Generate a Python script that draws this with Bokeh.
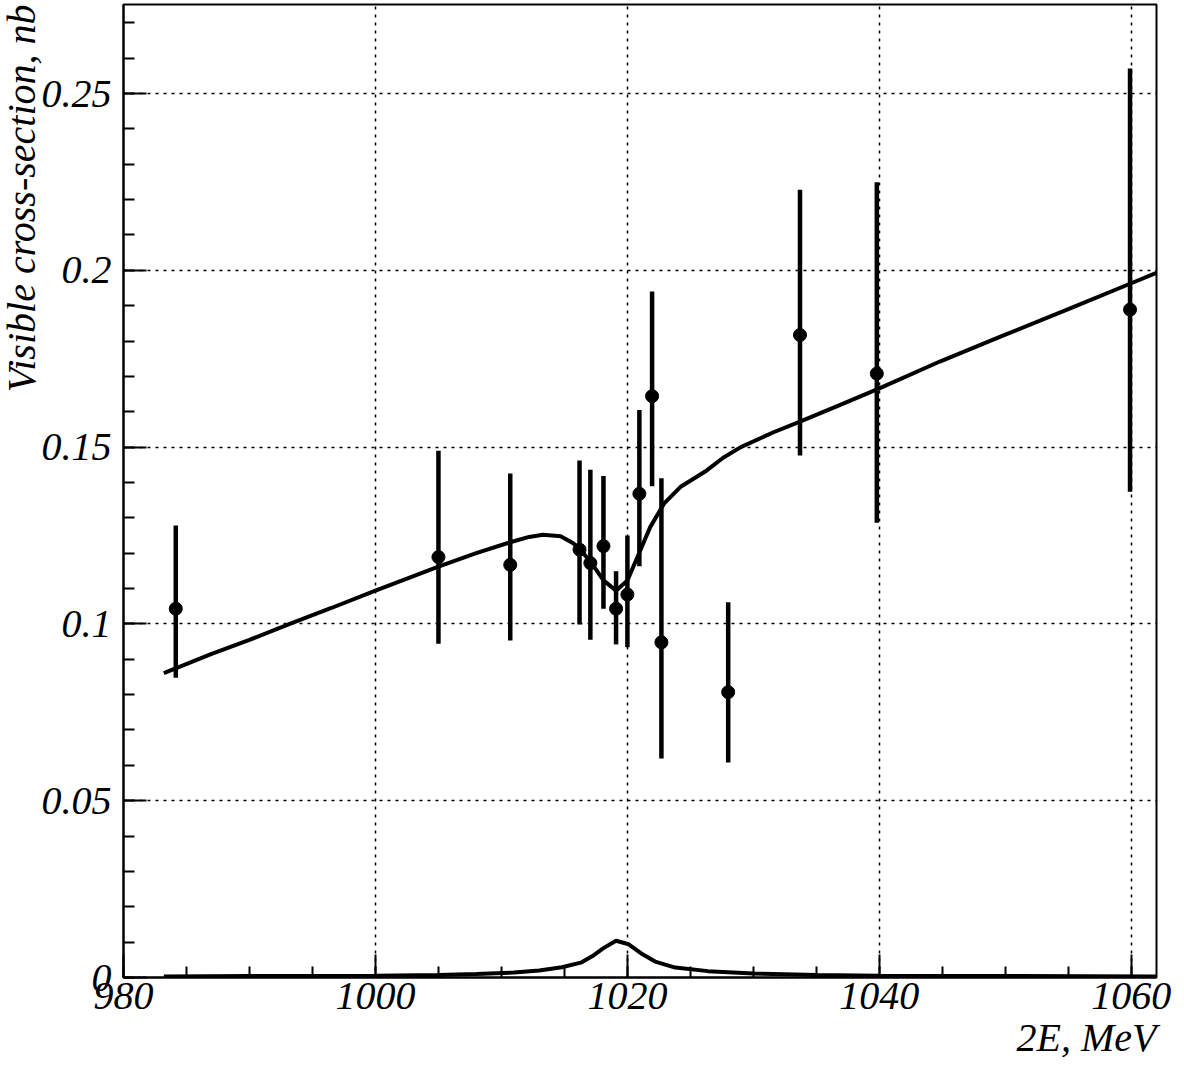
from bokeh.plotting import figure
from bokeh.models import FixedTicker, CustomJSTickFormatter, Range1d, Title
from bokeh.embed import file_html
from bokeh.resources import INLINE

# ---- data points (energy 2E in MeV, visible cross-section in nb) ----
pt_x = [984.15, 1005.0, 1010.7, 1016.2, 1017.06, 1018.1, 1019.1, 1020.0,
        1020.95, 1021.96, 1022.7, 1028.0, 1033.7, 1039.8, 1059.9]
pt_y = [0.1043, 0.1189, 0.1167, 0.1210, 0.1172, 0.1220, 0.1043, 0.1083,
        0.1368, 0.1644, 0.0948, 0.0807, 0.1817, 0.1708, 0.1889]
pt_hi = [0.1278, 0.1490, 0.1425, 0.1462, 0.1436, 0.1418, 0.1149, 0.1250,
         0.1605, 0.1940, 0.1412, 0.1061, 0.2228, 0.2249, 0.2571]
pt_lo = [0.0848, 0.0944, 0.0953, 0.0998, 0.0955, 0.1043, 0.0942, 0.0934,
         0.1163, 0.1389, 0.0619, 0.0608, 0.1476, 0.1286, 0.1374]

# ---- fit curve ----
fit_x = [983.2, 987.0, 990.0, 993.2, 996.5, 1000.0, 1005.0, 1008.0, 1010.7,
         1012.2, 1013.3, 1014.7, 1015.7, 1016.3, 1017.1, 1018.1, 1019.1,
         1020.0, 1020.8, 1021.8, 1022.9, 1024.2, 1026.3, 1027.6, 1029.0,
         1031.6, 1033.7, 1036.8, 1040.0, 1044.8, 1050.0, 1055.0, 1059.9, 1062.0]
fit_y = [0.0861, 0.0915, 0.0955, 0.1000, 0.1045, 0.1094, 0.1162, 0.1200, 0.1231,
         0.1246, 0.1252, 0.1248, 0.1228, 0.1208, 0.1175, 0.1123, 0.1094,
         0.1123, 0.1189, 0.1273, 0.1340, 0.1387, 0.1434, 0.1470, 0.1500,
         0.1542, 0.1572, 0.1618, 0.1666, 0.1742, 0.1818, 0.1890, 0.1962, 0.1993]

# ---- small resonance-like curve near zero ----
bg_x = [983.2, 990.0, 1000.0, 1005.0, 1008.0, 1011.0, 1013.0, 1014.8, 1016.3,
        1017.2, 1018.1, 1019.1, 1020.1, 1021.1, 1022.2, 1023.8, 1026.4, 1030.0,
        1035.0, 1040.0, 1050.0, 1062.0]
bg_y = [0.0003, 0.0004, 0.0005, 0.0007, 0.0010, 0.0014, 0.0020, 0.0029, 0.0042,
        0.0060, 0.0083, 0.0104, 0.0094, 0.0068, 0.0045, 0.0028, 0.0018, 0.0011,
        0.0007, 0.0005, 0.0004, 0.0003]

x_ticks = [980, 1000, 1020, 1040, 1060]
x_minor = [980 + 5 * i for i in range(17)]
y_ticks = [0, 0.05, 0.1, 0.15, 0.2, 0.25]
y_minor = [round(0.01 * i, 2) for i in range(28)]

x_title = "2E, MeV"
y_title = "Visible cross-section, nb"

FONT = "Liberation Serif"

p = figure(width=1184, height=1069, output_backend="svg", toolbar_location=None,
           x_range=Range1d(980, 1062), y_range=Range1d(0, 0.27517),
           min_border_left=123, min_border_right=28, min_border_top=4,
           min_border_bottom=92)
p.background_fill_color = "white"
p.border_fill_color = "white"
p.outline_line_color = "black"
p.outline_line_width = 2
p.outline_line_alpha = 1.0

p.xaxis[0].ticker = FixedTicker(ticks=x_ticks, minor_ticks=x_minor)
p.yaxis[0].ticker = FixedTicker(ticks=y_ticks, minor_ticks=y_minor)

for ax in (p.xaxis[0], p.yaxis[0]):
    ax.axis_line_width = 2
    ax.axis_line_color = "black"
    ax.major_tick_in = 23
    ax.major_tick_out = 0
    ax.minor_tick_in = 11
    ax.minor_tick_out = 0
    ax.major_tick_line_width = 2
    ax.minor_tick_line_width = 2
    ax.major_tick_line_color = "black"
    ax.minor_tick_line_color = "black"
    ax.major_label_text_font = FONT
    ax.major_label_text_font_style = "italic"
    ax.major_label_text_font_size = "40px"
    ax.major_label_text_color = "black"

p.xaxis[0].major_label_standoff = 5
p.yaxis[0].major_label_standoff = 12
p.xaxis[0].formatter = CustomJSTickFormatter(code="return String(Math.round(tick));")
p.yaxis[0].formatter = CustomJSTickFormatter(code="return parseFloat(tick.toFixed(3)).toString();")

# axis titles, aligned to the far end of each axis
p.add_layout(Title(text=x_title, align="right", text_font=FONT,
                   text_font_style="italic", text_font_size="40px",
                   text_color="black", standoff=2), "below")
p.add_layout(Title(text=y_title, align="right", text_font=FONT,
                   text_font_style="italic", text_font_size="40px",
                   text_color="black", standoff=-11), "left")

for g in (p.xgrid[0], p.ygrid[0]):
    g.grid_line_color = "black"
    g.grid_line_dash = "3 5"
    g.grid_line_width = 1.5

# curves
p.line(bg_x, bg_y, line_color="black", line_width=4)
p.line(fit_x, fit_y, line_color="black", line_width=4)

# points with error bars
p.segment(x0=pt_x, y0=pt_lo, x1=pt_x, y1=pt_hi, line_color="black", line_width=4.5)
p.scatter(pt_x, pt_y, size=13, color="black")

open("out.html", "w").write(file_html(p, INLINE))
